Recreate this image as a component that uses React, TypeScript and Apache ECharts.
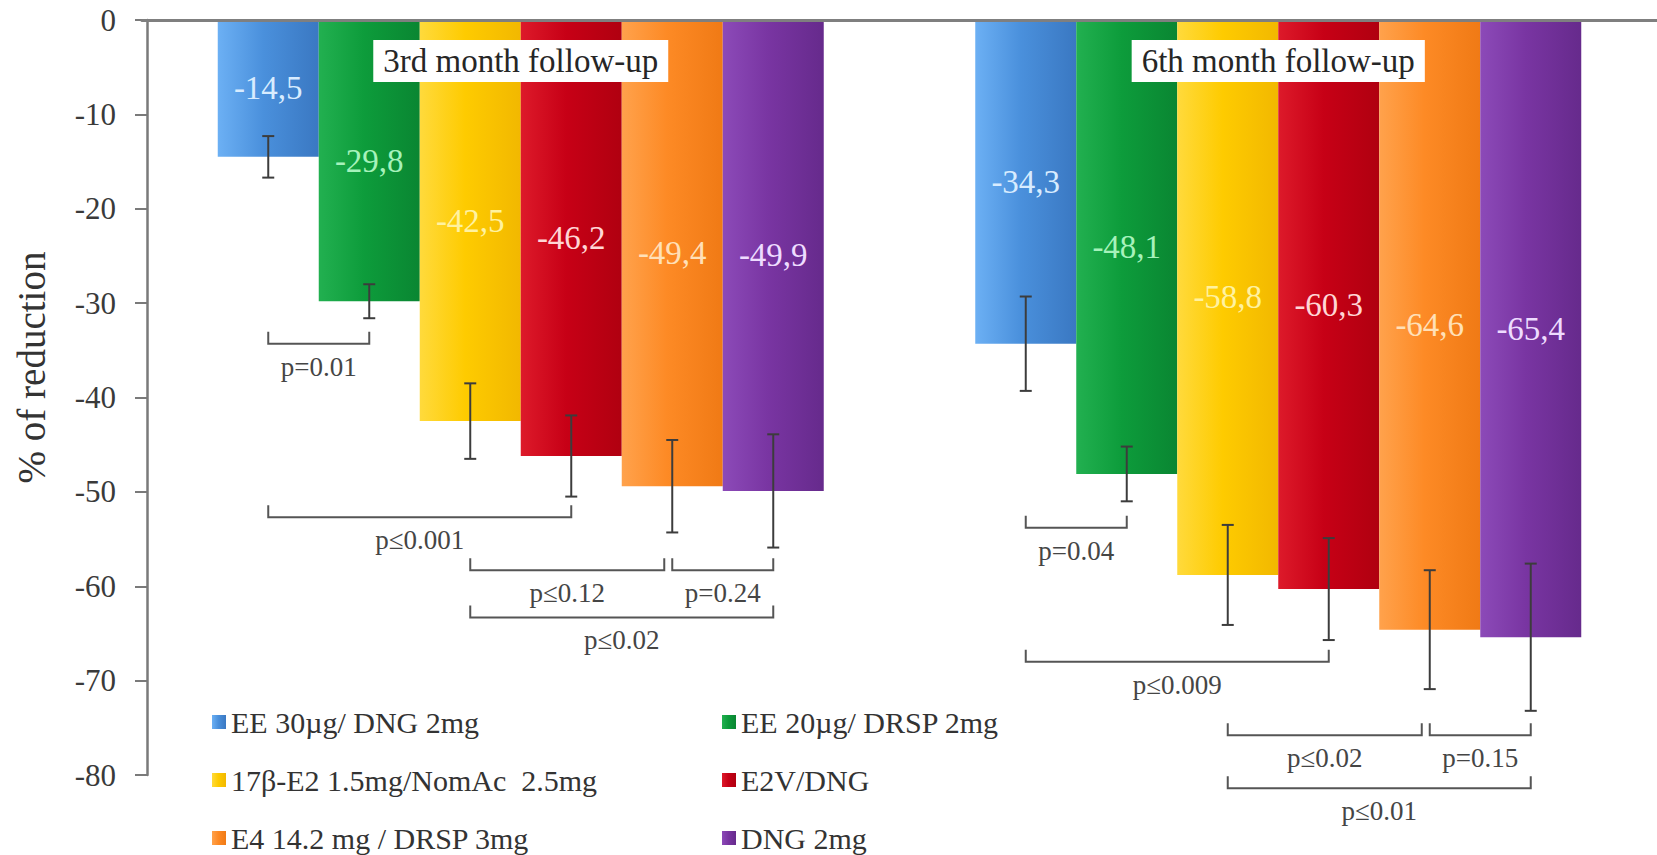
import React, { useEffect, useRef } from "react";
import * as echarts from "echarts";

const categories = ["3rd month follow-up", "6th month follow-up"];
const seriesNames = [
  "EE 30µg/ DNG 2mg",
  "EE 20µg/ DRSP 2mg",
  "17β-E2 1.5mg/NomAc  2.5mg",
  "E2V/DNG",
  "E4 14.2 mg / DRSP 3mg",
  "DNG 2mg",
];
const month3 = [-14.5, -29.8, -42.5, -46.2, -49.4, -49.9];
const month6 = [-34.3, -48.1, -58.8, -60.3, -64.6, -65.4];
const err3 = [2.2, 1.8, 4.0, 4.3, 4.9, 6.0];
const err6 = [5.0, 2.9, 5.3, 5.4, 6.3, 7.8];
const yMin = -80;
const yMax = 0;
const yStep = 10;

// comparison brackets: [category, fromBar, toBar, level]
const bracketSpans = [
  [0, 0, 1, -34.3],
  [0, 0, 3, -52.7],
  [0, 2, 4, -58.3],
  [0, 4, 5, -58.3],
  [0, 2, 5, -63.3],
  [1, 0, 1, -53.8],
  [1, 0, 3, -68.0],
  [1, 2, 4, -75.8],
  [1, 4, 5, -75.8],
  [1, 2, 5, -81.4],
];
const bracketLabels = [
  "p=0.01",
  "p≤0.001",
  "p≤0.12",
  "p=0.24",
  "p≤0.02",
  "p=0.04",
  "p≤0.009",
  "p≤0.02",
  "p=0.15",
  "p≤0.01",
];

const FONT = "'Liberation Serif', 'Times New Roman', serif";
const mainColors = ["#4a90dc", "#0d9c3b", "#fecb00", "#c70016", "#fd8a25", "#7935a2"];
const lightColors = ["#6cb0f4", "#22b050", "#ffda3c", "#dd1a2a", "#ffa24c", "#8c4ab8"];
const darkColors = ["#3a78c2", "#0a8632", "#f2b800", "#b00010", "#f07a15", "#662a8c"];
const labelColors = ["#d8ecff", "#a6f2bb", "#fff2a0", "#ffd6d6", "#ffe0b8", "#eedcff"];

const BAR_FRACTION = 0.8;

export default function App() {
  const ref = useRef<HTMLDivElement>(null);
  useEffect(() => {
    if (!ref.current) return;
    const chart = echarts.init(ref.current, null, { renderer: "svg" });

    const barSeries = seriesNames.map((name, i) => ({
      name,
      type: "bar",
      barGap: "0%",
      barCategoryGap: "20%",
      z: 2,
      data: [month3[i], month6[i]],
      itemStyle: {
        color: new echarts.graphic.LinearGradient(0, 0, 1, 0, [
          { offset: 0, color: lightColors[i] },
          { offset: 0.45, color: mainColors[i] },
          { offset: 1, color: darkColors[i] },
        ]),
      },
      label: {
        show: true,
        position: "inside",
        fontFamily: FONT,
        fontSize: 33,
        color: labelColors[i],
        formatter: (p: any) => Number(p.value).toFixed(1).replace(".", ","),
      },
    }));

    const errData: number[][] = [];
    [month3, month6].forEach((vals, c) => {
      const errs = c === 0 ? err3 : err6;
      vals.forEach((v, i) => errData.push([c, v - errs[i], v + errs[i], i]));
    });

    const barWidthOf = (api: any) => (api.size([1, 0])[0] * BAR_FRACTION) / 6;

    const errSeries = {
      type: "custom",
      name: "errors",
      z: 4,
      silent: true,
      clip: false,
      data: errData,
      renderItem: (params: any, api: any) => {
        const cat = api.value(0);
        const lo = api.value(1);
        const hi = api.value(2);
        const bi = api.value(3);
        const bw = barWidthOf(api);
        const t = api.coord([cat, hi]);
        const b = api.coord([cat, lo]);
        const x = t[0] + (bi - 2.5) * bw;
        const cap = 6;
        const style = { stroke: "#3c3c3c", lineWidth: 2 };
        return {
          type: "group",
          children: [
            { type: "line", shape: { x1: x, y1: t[1], x2: x, y2: b[1] }, style },
            { type: "line", shape: { x1: x - cap, y1: t[1], x2: x + cap, y2: t[1] }, style },
            { type: "line", shape: { x1: x - cap, y1: b[1], x2: x + cap, y2: b[1] }, style },
          ],
        };
      },
    };

    const bracketSeries = {
      type: "custom",
      name: "brackets",
      z: 4,
      silent: true,
      clip: false,
      data: bracketSpans,
      renderItem: (params: any, api: any) => {
        const idx = params.dataIndex;
        const [cat, from, to, level] = bracketSpans[idx];
        const bw = barWidthOf(api);
        const p = api.coord([cat, level]);
        // shorten when a neighbouring bracket on the same level starts at this end
        const shared = bracketSpans.some(
          (s, j) => j !== idx && s[0] === cat && s[3] === level && s[1] === to
        );
        const x1 = p[0] + (from - 2.5) * bw;
        const x2 = p[0] + (to - 2.5) * bw - (shared ? 8 : 0);
        const y = p[1];
        const h = 12;
        return {
          type: "group",
          children: [
            {
              type: "polyline",
              shape: { points: [[x1, y - h], [x1, y], [x2, y], [x2, y - h]] },
              style: { stroke: "#555", lineWidth: 2, fill: null },
            },
            {
              type: "text",
              x: (x1 + x2) / 2,
              y: y + 23,
              style: {
                text: bracketLabels[idx],
                fontFamily: FONT,
                fontSize: 27,
                fill: "#454545",
                align: "center",
                verticalAlign: "middle",
              },
            },
          ],
        };
      },
    };

    const legendCommon = {
      orient: "vertical",
      icon: "rect",
      itemWidth: 14,
      itemHeight: 14,
      itemGap: 28,
      padding: 0,
      top: 707,
      height: 150,
      selectedMode: false,
      textStyle: { fontFamily: FONT, fontSize: 30, color: "#333", lineHeight: 30 },
    };

    chart.setOption({
      animation: false,
      backgroundColor: "#ffffff",
      grid: { left: 142, top: 20, width: 1520, bottom: 80, containLabel: false },
      legend: [
        { ...legendCommon, left: 212, data: [seriesNames[0], seriesNames[2], seriesNames[4]] },
        { ...legendCommon, left: 722, data: [seriesNames[1], seriesNames[3], seriesNames[5]] },
      ],
      xAxis: {
        type: "category",
        position: "top",
        data: categories,
        z: 10,
        axisLine: { show: true, lineStyle: { color: "#7f7f7f", width: 3 } },
        axisTick: { show: false },
        axisLabel: {
          inside: true,
          interval: 0,
          margin: 20,
          fontFamily: FONT,
          fontSize: 33,
          color: "#262626",
          backgroundColor: "#ffffff",
          padding: [3, 10, 3, 10],
          lineHeight: 36,
        },
      },
      yAxis: {
        type: "value",
        min: yMin,
        max: yMax,
        interval: yStep,
        offset: -5,
        name: "% of reduction",
        nameLocation: "middle",
        nameGap: 96,
        nameTextStyle: {
          fontFamily: FONT,
          fontSize: 39,
          color: "#333",
          padding: [0, 0, 0, 60],
        },
        axisLine: { show: true, lineStyle: { color: "#7a7a7a", width: 2.5 } },
        axisTick: { show: true, length: 12, lineStyle: { color: "#7a7a7a", width: 2 } },
        splitLine: { show: false },
        axisLabel: { fontFamily: FONT, fontSize: 31, color: "#3a3a3a", margin: 31 },
      },
      series: [...barSeries, errSeries, bracketSeries],
    });

    return () => chart.dispose();
  }, []);

  return (
    <div
      ref={ref}
      style={{ position: "absolute", left: 0, top: 0, width: 1657, height: 855 }}
    />
  );
}
